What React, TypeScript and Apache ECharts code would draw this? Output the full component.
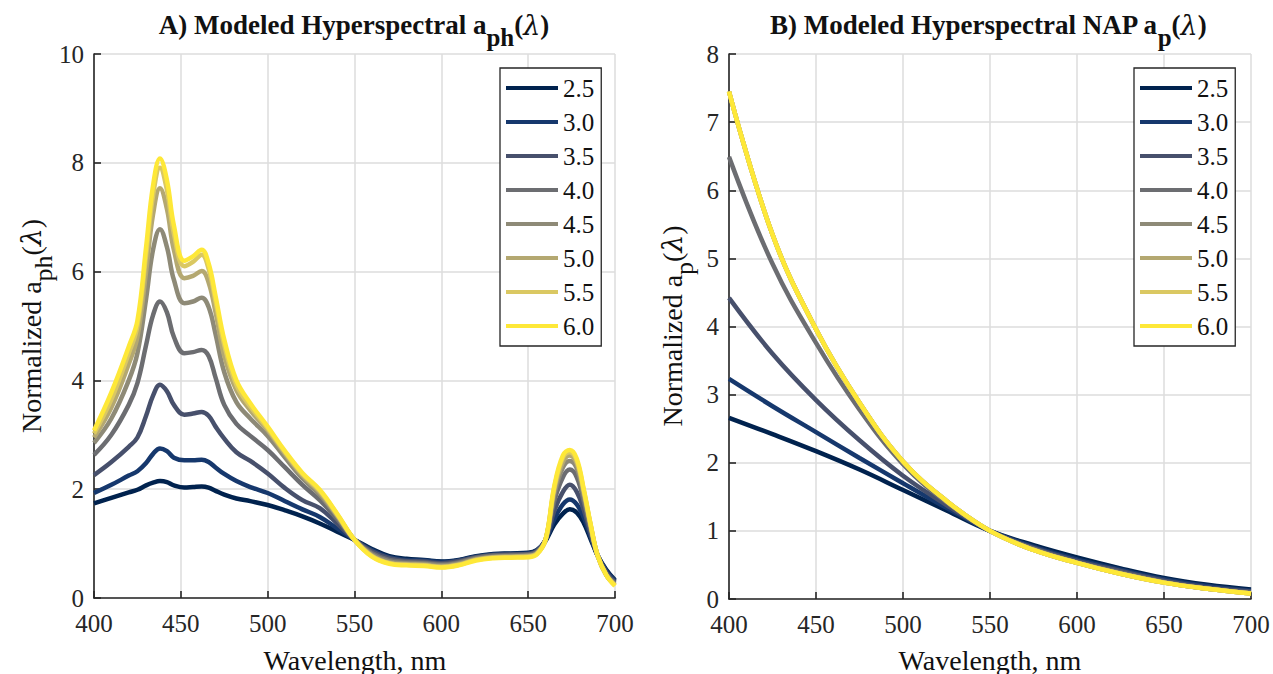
import React, { useEffect, useRef } from "react";
import * as echarts from "echarts";

const F = "Liberation Serif";
const INK = "#262626";

const NAMES = ["2.5", "3.0", "3.5", "4.0", "4.5", "5.0", "5.5", "6.0"];
const COLORS = ["#00224e", "#16386d", "#47506c", "#6c6d71", "#8e8a77", "#b4a871", "#dac862", "#fee838"];

// Panel A: wavelengths (nm)
const WL_A = [400, 410, 420, 425, 430, 434, 438, 442, 446, 452, 457, 462, 466, 470, 475, 482, 490, 500, 510, 520, 530, 540, 550, 560, 570, 580, 590, 600, 610, 620, 630, 640, 650, 655, 660, 665, 670, 674, 678, 682, 686, 690, 695, 700];
const A25 = [1.74, 1.84, 1.94, 1.99, 2.07, 2.12, 2.15, 2.13, 2.07, 2.03, 2.04, 2.05, 2.03, 1.97, 1.90, 1.83, 1.78, 1.71, 1.61, 1.50, 1.37, 1.22, 1.07, 0.90, 0.77, 0.72, 0.70, 0.67, 0.70, 0.77, 0.81, 0.82, 0.83, 0.88, 1.05, 1.35, 1.55, 1.63, 1.57, 1.38, 1.08, 0.78, 0.52, 0.33];
const A30 = [1.93, 2.08, 2.25, 2.33, 2.48, 2.65, 2.75, 2.70, 2.58, 2.53, 2.53, 2.54, 2.50, 2.40, 2.28, 2.15, 2.04, 1.93, 1.78, 1.63, 1.49, 1.28, 1.07, 0.88, 0.75, 0.70, 0.69, 0.66, 0.69, 0.76, 0.80, 0.81, 0.82, 0.87, 1.06, 1.45, 1.72, 1.81, 1.72, 1.48, 1.12, 0.78, 0.50, 0.31];
const A35 = [2.26, 2.50, 2.78, 2.95, 3.35, 3.72, 3.92, 3.80, 3.55, 3.37, 3.39, 3.42, 3.35, 3.15, 2.93, 2.68, 2.52, 2.29, 2.02, 1.80, 1.65, 1.37, 1.07, 0.86, 0.73, 0.68, 0.67, 0.64, 0.68, 0.75, 0.79, 0.80, 0.81, 0.86, 1.07, 1.60, 1.95, 2.08, 1.95, 1.62, 1.18, 0.78, 0.47, 0.29];
const A40 = [2.63, 3.00, 3.55, 3.95, 4.65, 5.20, 5.45, 5.25, 4.80, 4.50, 4.52, 4.56, 4.45, 4.05, 3.55, 3.20, 2.98, 2.72, 2.40, 2.08, 1.80, 1.45, 1.07, 0.83, 0.70, 0.66, 0.65, 0.62, 0.66, 0.74, 0.78, 0.79, 0.80, 0.85, 1.07, 1.78, 2.22, 2.36, 2.22, 1.78, 1.25, 0.78, 0.44, 0.27];
const A45 = [2.85, 3.30, 4.00, 4.50, 5.50, 6.40, 6.78, 6.45, 5.85, 5.42, 5.45, 5.52, 5.35, 4.85, 4.15, 3.60, 3.30, 2.98, 2.58, 2.20, 1.90, 1.50, 1.07, 0.80, 0.67, 0.64, 0.63, 0.60, 0.64, 0.72, 0.76, 0.77, 0.78, 0.83, 1.07, 1.90, 2.40, 2.52, 2.38, 1.88, 1.30, 0.78, 0.42, 0.25];
const A50 = [2.95, 3.50, 4.30, 4.80, 6.00, 7.05, 7.53, 7.15, 6.40, 5.88, 5.92, 6.01, 5.80, 5.25, 4.45, 3.82, 3.45, 3.08, 2.65, 2.25, 1.94, 1.52, 1.07, 0.78, 0.65, 0.62, 0.61, 0.58, 0.62, 0.71, 0.75, 0.76, 0.77, 0.82, 1.07, 1.98, 2.50, 2.62, 2.47, 1.95, 1.33, 0.78, 0.42, 0.24];
const A55 = [3.02, 3.65, 4.50, 5.00, 6.30, 7.40, 7.91, 7.50, 6.70, 6.10, 6.18, 6.31, 6.05, 5.45, 4.65, 3.92, 3.52, 3.12, 2.68, 2.28, 1.97, 1.54, 1.07, 0.77, 0.64, 0.61, 0.60, 0.57, 0.61, 0.70, 0.74, 0.75, 0.76, 0.81, 1.07, 2.02, 2.58, 2.68, 2.52, 1.98, 1.34, 0.78, 0.42, 0.23];
const A60 = [3.08, 3.78, 4.62, 5.10, 6.45, 7.58, 8.08, 7.68, 6.85, 6.20, 6.28, 6.40, 6.15, 5.55, 4.75, 4.00, 3.58, 3.15, 2.70, 2.30, 1.99, 1.55, 1.07, 0.76, 0.63, 0.60, 0.59, 0.56, 0.60, 0.69, 0.73, 0.74, 0.75, 0.80, 1.07, 2.05, 2.62, 2.72, 2.56, 2.00, 1.35, 0.78, 0.42, 0.22];

// Panel B: wavelengths (nm)
const WL_B = [400, 425, 450, 475, 500, 525, 550, 575, 600, 625, 650, 675, 700];
const B25 = [2.66, 2.42, 2.17, 1.90, 1.60, 1.30, 1.00, 0.79, 0.61, 0.45, 0.31, 0.21, 0.14];
const B30 = [3.23, 2.83, 2.45, 2.07, 1.70, 1.34, 1.00, 0.77, 0.58, 0.43, 0.29, 0.19, 0.12];
const B35 = [4.42, 3.60, 2.92, 2.33, 1.81, 1.38, 1.00, 0.75, 0.56, 0.41, 0.27, 0.17, 0.11];
const B40 = [6.49, 4.92, 3.76, 2.78, 1.98, 1.42, 1.00, 0.74, 0.54, 0.39, 0.25, 0.15, 0.09];
const B45 = [7.45, 5.35, 3.96, 2.88, 2.02, 1.44, 1.00, 0.72, 0.53, 0.37, 0.24, 0.15, 0.08];
const B50 = [7.45, 5.35, 3.96, 2.88, 2.02, 1.44, 1.00, 0.72, 0.53, 0.37, 0.24, 0.15, 0.08];
const B55 = [7.45, 5.35, 3.96, 2.88, 2.02, 1.44, 1.00, 0.72, 0.53, 0.37, 0.24, 0.15, 0.08];
const B60 = [7.45, 5.35, 3.96, 2.88, 2.02, 1.44, 1.00, 0.72, 0.53, 0.37, 0.24, 0.15, 0.08];

const A_SETS = [A25, A30, A35, A40, A45, A50, A55, A60];
const B_SETS = [B25, B30, B35, B40, B45, B50, B55, B60];

function axisX(gridIndex: number) {
  return {
    type: "value",
    gridIndex,
    min: 400,
    max: 700,
    interval: 50,
    axisLine: { show: true, onZero: false, lineStyle: { color: INK, width: 1.6 } },
    axisTick: { show: true, inside: true, length: 7, lineStyle: { color: INK, width: 1.6 } },
    splitLine: { show: true, lineStyle: { color: "#dcdcdc", width: 1.5 } },
    axisLabel: { fontSize: 25, fontFamily: F, color: INK, margin: 13, formatter: (v: number) => String(v) },
  };
}
function axisY(gridIndex: number, max: number, interval: number) {
  return {
    type: "value",
    gridIndex,
    min: 0,
    max,
    interval,
    axisLine: { show: true, onZero: false, lineStyle: { color: INK, width: 1.6 } },
    axisTick: { show: true, inside: true, length: 7, lineStyle: { color: INK, width: 1.6 } },
    splitLine: { show: true, lineStyle: { color: "#dcdcdc", width: 1.5 } },
    axisLabel: { fontSize: 25, fontFamily: F, color: INK, margin: 10 },
  };
}

function legendAt(left: number) {
  return {
    data: NAMES,
    orient: "vertical",
    left,
    top: 68,
    icon: "rect",
    itemWidth: 52,
    itemHeight: 4,
    itemGap: 8,
    padding: [7, 7, 7, 6],
    borderColor: INK,
    borderWidth: 1.3,
    backgroundColor: "#ffffff",
    selectedMode: false,
    textStyle: { fontSize: 25, fontFamily: F, color: "#111", lineHeight: 26 },
  };
}

const richBase = (bold: boolean, size: number) => ({
  m: { fontSize: size, fontWeight: bold ? "bold" : "normal", fontFamily: F, fill: "#111", color: "#111", lineHeight: 28 },
  s: { fontSize: size - 2, fontWeight: bold ? "bold" : "normal", fontFamily: F, fill: "#111", color: "#111", lineHeight: 26, padding: [24, 0, 0, 0] },
  l: { fontSize: size, fontStyle: "italic", fontFamily: "DejaVu Serif", fill: "#111", color: "#111", lineHeight: 28 },
});

export default function App() {
  const ref = useRef<HTMLDivElement>(null);
  useEffect(() => {
    if (!ref.current) return;
    const chart = echarts.init(ref.current, undefined, { renderer: "svg" });
    const series: any[] = [];
    NAMES.forEach((name, i) => {
      series.push({
        type: "line",
        name,
        xAxisIndex: 0,
        yAxisIndex: 0,
        data: WL_A.map((w, k) => [w, A_SETS[i][k]]),
        showSymbol: false,
        symbol: "none",
        smooth: 0.4,
        color: COLORS[i],
        lineStyle: { width: 4.5, color: COLORS[i] },
        z: 2 + i,
      });
    });
    NAMES.forEach((name, i) => {
      series.push({
        type: "line",
        name,
        xAxisIndex: 1,
        yAxisIndex: 1,
        data: WL_B.map((w, k) => [w, B_SETS[i][k]]),
        showSymbol: false,
        symbol: "none",
        smooth: 0.4,
        color: COLORS[i],
        lineStyle: { width: 4.5, color: COLORS[i] },
        z: 2 + i,
      });
    });

    const option: any = {
      animation: false,
      backgroundColor: "#ffffff",
      textStyle: { fontFamily: F },
      grid: [
        { left: 94, top: 54, width: 521, height: 544 },
        { left: 729, top: 54, width: 522, height: 545 },
      ],
      xAxis: [axisX(0), axisX(1)],
      yAxis: [axisY(0, 10, 2), axisY(1, 8, 1)],
      legend: [legendAt(500), legendAt(1134)],
      series,
      graphic: [
        {
          type: "text",
          x: 354,
          y: 25,
          style: {
            text: "{m|A) Modeled Hyperspectral a}{s|ph}{m|(}{l|λ}{m|)}",
            rich: richBase(true, 27),
            align: "center",
            verticalAlign: "middle",
          },
        },
        {
          type: "text",
          x: 988,
          y: 25,
          style: {
            text: "{m|B) Modeled Hyperspectral NAP a}{s|p}{m|(}{l|λ}{m|)}",
            rich: richBase(true, 27),
            align: "center",
            verticalAlign: "middle",
          },
        },
        {
          type: "text",
          x: 31,
          y: 326,
          rotation: Math.PI / 2,
          style: {
            text: "{m|Normalized a}{s|ph}{m|(}{l|λ}{m|)}",
            rich: richBase(false, 28),
            align: "center",
            verticalAlign: "middle",
          },
        },
        {
          type: "text",
          x: 672,
          y: 326,
          rotation: Math.PI / 2,
          style: {
            text: "{m|Normalized a}{s|p}{m|(}{l|λ}{m|)}",
            rich: richBase(false, 28),
            align: "center",
            verticalAlign: "middle",
          },
        },
        {
          type: "text",
          x: 355,
          y: 660,
          style: { text: "Wavelength, nm", font: `28px ${F}`, fill: "#111", align: "center", verticalAlign: "middle" },
        },
        {
          type: "text",
          x: 990,
          y: 660,
          style: { text: "Wavelength, nm", font: `28px ${F}`, fill: "#111", align: "center", verticalAlign: "middle" },
        },
      ],
    };
    chart.setOption(option);
    return () => chart.dispose();
  }, []);
  return (
    <div
      ref={ref}
      style={{ position: "fixed", left: 0, top: 0, width: 1273, height: 674, background: "#fff" }}
    />
  );
}
